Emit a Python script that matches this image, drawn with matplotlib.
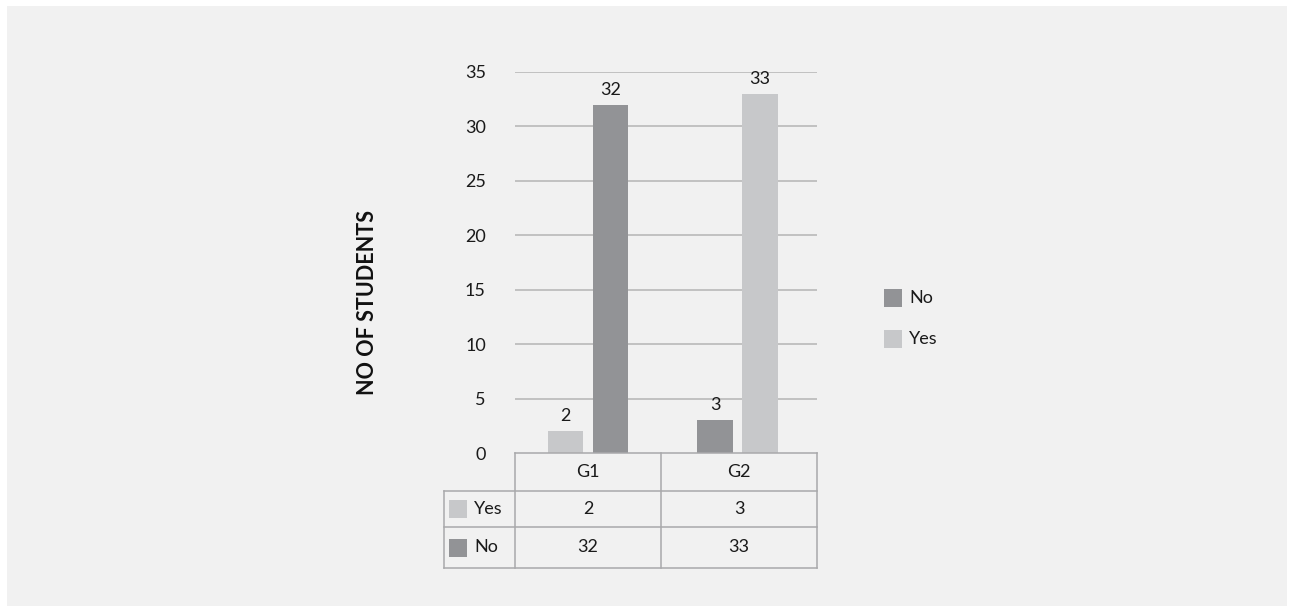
import matplotlib
matplotlib.use('Agg')
import matplotlib.pyplot as plt
from matplotlib.patches import Rectangle
import numpy as np

# data
groups = ['G1', 'G2']
left_vals = [2, 3]          # first bar in each group
right_vals = [32, 33]       # second bar in each group
left_series = ['Yes', 'No']
right_series = ['No', 'Yes']
table_rows = ['Yes', 'No']
table_yes = [2, 3]
table_no = [32, 33]

colors = {'No': '#929396', 'Yes': '#c7c8ca'}
bg = '#f1f1f1'
grid_c = '#b4b4b4'
line_c = '#a9a9ab'
txt_c = '#1a1a1a'
fs = 13
plt.rcParams['font.family'] = ['Lato', 'DejaVu Sans']

W, H = 1293, 614
fig = plt.figure(figsize=(W / 100, H / 100), dpi=100)
fig.patch.set_facecolor('white')
fig.patches.append(Rectangle((7 / W, 8 / H), 1280 / W, 600 / H, transform=fig.transFigure,
                             facecolor=bg, edgecolor='none', zorder=-10))

def fx(px):
    return px / W

def fy(py):
    return 1 - py / H

ax = fig.add_axes([fx(515), fy(453), fx(817) - fx(515), fy(72) - fy(453)])
ax.set_facecolor('none')
ax.set_xlim(-73 / 149.5, 229 / 149.5)
ax.set_ylim(0, 35)
for s in ax.spines.values():
    s.set_visible(False)
ax.set_yticks(range(0, 36, 5))
ax.tick_params(axis='y', length=0, pad=21, labelsize=fs, colors=txt_c)
ax.tick_params(axis='x', length=0, labelbottom=False)
for v in range(5, 36, 5):
    ax.axhline(v, color=grid_c, lw=1.1, zorder=0)

x = np.arange(len(groups))
bw, off = 0.238, 0.15
for i in range(len(groups)):
    b1 = ax.bar(x[i] - off, left_vals[i], bw, color=colors[left_series[i]], zorder=2)
    b2 = ax.bar(x[i] + off, right_vals[i], bw, color=colors[right_series[i]], zorder=2)
    ax.bar_label(b1, padding=5, fontsize=fs, color=txt_c)
    ax.bar_label(b2, padding=5, fontsize=fs, color=txt_c)

ax.set_ylabel('NO OF STUDENTS', fontsize=15.5, fontweight='bold', color='#111111')
ax.yaxis.set_label_coords(-0.454, 0.394)

# data table under the chart
tx0, tx1, tx2, tx3 = 444, 515, 661, 817
ty0, ty1, ty2, ty3 = 453, 491, 527, 568
tl = dict(color=line_c, lw=1.1, transform=fig.transFigure)
fig.add_artist(plt.Line2D([fx(tx1), fx(tx3)], [fy(ty0)] * 2, **tl))
for yy in (ty1, ty2, ty3):
    fig.add_artist(plt.Line2D([fx(tx0), fx(tx3)], [fy(yy)] * 2, **tl))
fig.add_artist(plt.Line2D([fx(tx0)] * 2, [fy(ty1), fy(ty3)], **tl))
for xx in (tx1, tx2, tx3):
    fig.add_artist(plt.Line2D([fx(xx)] * 2, [fy(ty0), fy(ty3)], **tl))

cols = [(tx1 + tx2) / 2, (tx2 + tx3) / 2]
for c, g in zip(cols, groups):
    fig.text(fx(c), fy((ty0 + ty1) / 2), g, ha='center', va='center', fontsize=fs, color=txt_c)
rows_y = [(ty1 + ty2) / 2, (ty2 + ty3) / 2]
for ry, name, vals in zip(rows_y, table_rows, [table_yes, table_no]):
    fig.patches.append(Rectangle((fx(449), fy(ry + 9)), 18 / W, 18 / H, transform=fig.transFigure,
                                 facecolor=colors[name], edgecolor='none'))
    fig.text(fx(474), fy(ry), name, ha='left', va='center', fontsize=fs, color=txt_c)
    for c, v in zip(cols, vals):
        fig.text(fx(c), fy(ry), str(v), ha='center', va='center', fontsize=fs, color=txt_c)

# legend on the right
for ly, name in [(298, 'No'), (339, 'Yes')]:
    fig.patches.append(Rectangle((fx(884), fy(ly + 9)), 18 / W, 18 / H, transform=fig.transFigure,
                                 facecolor=colors[name], edgecolor='none'))
    fig.text(fx(909), fy(ly), name, ha='left', va='center', fontsize=fs, color=txt_c)

fig.savefig('out.png', dpi=100, facecolor=fig.get_facecolor())
